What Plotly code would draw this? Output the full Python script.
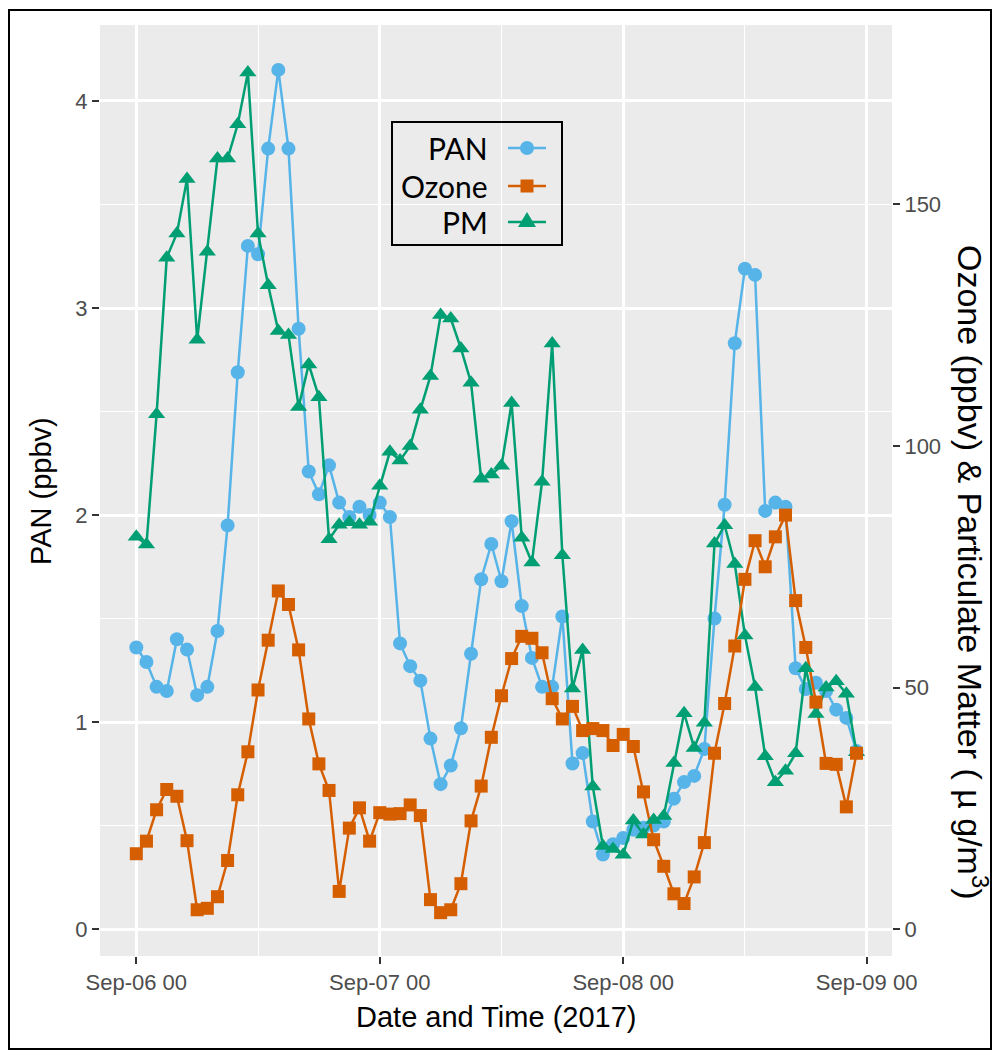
import plotly.graph_objects as go
from datetime import datetime, timedelta

# ---------------- data (hourly, starting 2017-09-06 00:00) ----------------
start_time = "2017-09-06 00:00"
hour_index = list(range(72))

pan = [1.36, 1.29, 1.17, 1.15, 1.40, 1.35, 1.13, 1.17, 1.44, 1.95, 2.69, 3.30,
       3.26, 3.77, 4.15, 3.77, 2.90, 2.21, 2.10, 2.24, 2.06, 1.99, 2.04, 2.00,
       2.06, 1.99, 1.38, 1.27, 1.20, 0.92, 0.70, 0.79, 0.97, 1.33, 1.69, 1.86,
       1.68, 1.97, 1.56, 1.31, 1.17, 1.17, 1.51, 0.80, 0.85, 0.52, 0.36, 0.41,
       0.44, 0.48, 0.49, 0.50, 0.52, 0.63, 0.71, 0.74, 0.87, 1.50, 2.05, 2.83,
       3.19, 3.16, 2.02, 2.06, 2.04, 1.26, 1.16, 1.19, 1.15, 1.06, 1.02, 0.86]

ozone = [15.6, 18.2, 24.7, 28.9, 27.5, 18.3, 4.0, 4.3, 6.7, 14.2, 27.8, 36.7,
         49.5, 59.8, 70.0, 67.2, 57.8, 43.5, 34.2, 28.7, 7.8, 20.9, 25.1, 18.2,
         24.1, 23.8, 23.9, 25.7, 23.5, 6.1, 3.4, 4.0, 9.4, 22.4, 29.6, 39.7,
         48.3, 56.0, 60.6, 60.2, 57.2, 47.7, 43.5, 46.1, 41.1, 41.5, 41.1, 38.0,
         40.3, 37.8, 28.4, 18.5, 13.0, 7.3, 5.3, 10.8, 17.9, 36.4, 46.7, 58.6,
         72.4, 80.4, 75.0, 81.2, 85.7, 68.0, 58.3, 47.0, 34.3, 34.1, 25.3, 36.4]

pm = [81.2, 79.6, 106.6, 139.0, 144.0, 155.3, 122.0, 140.2, 159.5, 159.5, 166.6, 177.3,
      144.0, 133.3, 123.8, 123.0, 108.1, 116.9, 110.1, 80.7, 83.7, 84.2, 83.7, 84.3,
      91.8, 98.8, 97.0, 100.0, 107.5, 114.5, 127.1, 126.4, 120.2, 113.1, 93.2, 94.1,
      95.9, 108.9, 81.0, 75.9, 92.6, 121.2, 77.4, 49.8, 57.8, 29.5, 17.2, 16.6,
      15.4, 22.5, 19.6, 22.6, 23.4, 34.4, 44.7, 37.5, 42.7, 79.8, 83.6, 75.6,
      60.8, 50.1, 35.8, 30.4, 32.8, 36.4, 54.0, 44.5, 50.0, 51.3, 48.7, 36.6]

x_tick_vals = ["2017-09-06 00:00", "2017-09-07 00:00", "2017-09-08 00:00", "2017-09-09 00:00"]
x_tick_text = ["Sep-06 00", "Sep-07 00", "Sep-08 00", "Sep-09 00"]
x_minor_vals = ["2017-09-06 12:00", "2017-09-07 12:00", "2017-09-08 12:00"]
y_tick_vals = [0, 1, 2, 3, 4]
y2_tick_vals = [0, 50, 100, 150]
sec_factor = 300 / 7  # right axis = left axis * factor

t0 = datetime.strptime(start_time, "%Y-%m-%d %H:%M")
times = [t0 + timedelta(hours=h) for h in hour_index]

# ---------------- style ----------------
C_PAN, C_O3, C_PM = "#56B4E9", "#D55E00", "#009E73"
W, H = 997, 1055
L, R, T, B = 100, 892, 25, 956   # plotting panel pixel edges
y_lo, y_hi = -0.13, 4.367
x_lo = t0 - timedelta(hours=3.58)
x_hi = t0 + timedelta(hours=74.5)

def px(x):
    return (x - L) / (R - L)

def py(y):
    return (B - y) / (B - T)

fig = go.Figure()
LW = 2.5
# lines first (as ggplot), then points
fig.add_trace(go.Scatter(x=times, y=pan, mode="lines", line=dict(color=C_PAN, width=LW),
                         yaxis="y", hoverinfo="skip"))
fig.add_trace(go.Scatter(x=times, y=pan, mode="markers",
                         marker=dict(color=C_PAN, size=14, symbol="circle"), yaxis="y", name="PAN"))
fig.add_trace(go.Scatter(x=times, y=pm, mode="lines", line=dict(color=C_PM, width=LW),
                         yaxis="y2", hoverinfo="skip"))
fig.add_trace(go.Scatter(x=times, y=ozone, mode="lines", line=dict(color=C_O3, width=LW),
                         yaxis="y2", hoverinfo="skip"))
fig.add_trace(go.Scatter(x=times, y=pm, mode="markers",
                         marker=dict(color=C_PM, size=15, symbol="triangle-up"), yaxis="y2", name="PM"))
fig.add_trace(go.Scatter(x=times, y=ozone, mode="markers",
                         marker=dict(color=C_O3, size=13, symbol="square"), yaxis="y2", name="Ozone"))

tick_font = dict(family="Liberation Sans, Arial, sans-serif", size=22, color="#4D4D4D")

fig.update_layout(
    width=W, height=H,
    margin=dict(l=L, r=W - R, t=T, b=H - B, pad=0),
    plot_bgcolor="#EBEBEB", paper_bgcolor="white",
    showlegend=False,
    xaxis=dict(type="date", range=[x_lo, x_hi], tickmode="array",
               tickvals=x_tick_vals, ticktext=x_tick_text,
               showgrid=True, gridcolor="white", gridwidth=2.5, zeroline=False,
               ticks="outside", ticklen=7, tickwidth=2, tickcolor="#333333",
               tickfont=tick_font, showline=False,
               minor=dict(tickmode="array", tickvals=x_minor_vals, showgrid=True,
                          gridcolor="white", gridwidth=1.3, ticks="")),
    yaxis=dict(range=[y_lo, y_hi], tickmode="array", tickvals=y_tick_vals,
               showgrid=True, gridcolor="white", gridwidth=2.5, zeroline=False,
               ticks="outside", ticklen=7, tickwidth=2, tickcolor="#333333",
               tickfont=tick_font, showline=False,
               minor=dict(tickmode="array", tickvals=[0.5, 1.5, 2.5, 3.5], showgrid=True,
                          gridcolor="white", gridwidth=1.3, ticks="")),
    yaxis2=dict(range=[y_lo * sec_factor, y_hi * sec_factor], overlaying="y", side="right",
                tickmode="array", tickvals=y2_tick_vals, showgrid=False, zeroline=False,
                ticks="outside", ticklen=7, tickwidth=2, tickcolor="#333333",
                tickfont=tick_font, showline=False),
)

title_font = dict(family="Liberation Sans, Arial, sans-serif", color="black")
annotations = [
    dict(text="Date and Time (2017)", x=px(496), y=py(1017), xref="paper", yref="paper",
         showarrow=False, xanchor="center", yanchor="middle", font=dict(size=29, **title_font)),
    dict(text="PAN (ppbv)", x=px(41), y=py(491), xref="paper", yref="paper", textangle=-90,
         showarrow=False, xanchor="center", yanchor="middle", font=dict(size=29, **title_font)),
    dict(text="Ozone (ppbv) & Particulate Matter ( µ g/m<sup>3</sup>)", x=px(972), y=py(572),
         xref="paper", yref="paper", textangle=90,
         showarrow=False, xanchor="center", yanchor="middle", font=dict(size=34, **title_font)),
]

# custom legend (text left of symbol, as in the reference)
leg_font = dict(family="Lato, Open Sans, sans-serif", size=30, color="black")
leg_rows = [("PAN", C_PAN, "circle", 148), ("Ozone", C_O3, "square", 186), ("PM", C_PM, "triangle", 222)]
shapes = []
shapes.append(dict(type="rect", xref="paper", yref="paper", x0=px(392), x1=px(562),
                   y0=py(122), y1=py(245), line=dict(color="black", width=2),
                   fillcolor="rgba(0,0,0,0)", layer="above"))
for label, col, sym, yy in leg_rows:
    annotations.append(dict(text=label, x=px(490), y=py(yy), xref="paper", yref="paper",
                            showarrow=False, xanchor="right", yanchor="middle", font=leg_font))
    shapes.append(dict(type="line", xref="paper", yref="paper", x0=px(508), x1=px(546),
                       y0=py(yy), y1=py(yy), line=dict(color=col, width=2.5), layer="above"))
    cx = 527
    if sym == "circle":
        shapes.append(dict(type="circle", xref="paper", yref="paper", x0=px(cx - 7), x1=px(cx + 7),
                           y0=py(yy + 7), y1=py(yy - 7), fillcolor=col, line=dict(width=0), layer="above"))
    elif sym == "square":
        shapes.append(dict(type="rect", xref="paper", yref="paper", x0=px(cx - 6.5), x1=px(cx + 6.5),
                           y0=py(yy + 6.5), y1=py(yy - 6.5), fillcolor=col, line=dict(width=0), layer="above"))
    else:
        path = "M {:.5f},{:.5f} L {:.5f},{:.5f} L {:.5f},{:.5f} Z".format(
            px(cx - 9), py(yy + 5), px(cx + 9), py(yy + 5), px(cx), py(yy - 10))
        shapes.append(dict(type="path", xref="paper", yref="paper", path=path,
                           fillcolor=col, line=dict(width=0), layer="above"))

# outer frame around the whole figure
shapes.append(dict(type="rect", xref="paper", yref="paper", x0=px(9), x1=px(991),
                   y0=py(1049), y1=py(10), line=dict(color="black", width=2),
                   fillcolor="rgba(0,0,0,0)", layer="above"))

fig.update_layout(annotations=annotations, shapes=shapes)
fig.write_html("out.html", config={"displayModeBar": False})
